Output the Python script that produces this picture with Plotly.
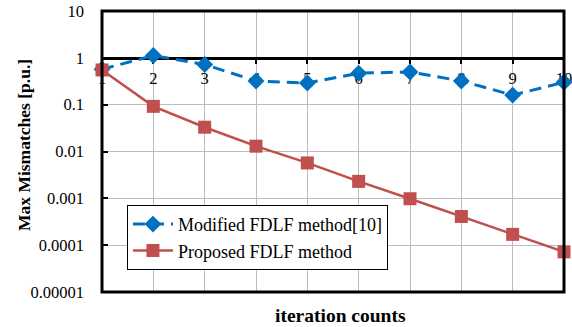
import plotly.graph_objects as go

iterations = [1, 2, 3, 4, 5, 6, 7, 8, 9, 10]
modified_fdlf = [0.57, 1.12, 0.72, 0.32, 0.29, 0.47, 0.50, 0.32, 0.16, 0.30]
proposed_fdlf = [0.55, 0.092, 0.033, 0.013, 0.0057, 0.0023, 0.00098, 0.00041, 0.00017, 0.000072]
y_tick_vals = [0.00001, 0.0001, 0.001, 0.01, 0.1, 1, 10]
y_tick_text = ["0.00001", "0.0001", "0.001", "0.01", "0.1", "1", "10"]

serif = "Liberation Serif, Times New Roman, serif"

fig = go.Figure()
fig.add_trace(go.Scatter(
    x=iterations, y=modified_fdlf, mode="lines+markers",
    name="Modified FDLF method[10]",
    line=dict(color="#0070C0", width=3, dash="12px,7px"),
    marker=dict(symbol="diamond", size=13, color="#0070C0"),
    cliponaxis=False,
))
fig.add_trace(go.Scatter(
    x=iterations, y=proposed_fdlf, mode="lines+markers",
    name="Proposed FDLF method",
    line=dict(color="#C0504D", width=2.5),
    marker=dict(symbol="square", size=13, color="#C0504D"),
    cliponaxis=False,
))

# x axis crosses the log y axis at 1 -> paper fraction 5/6
fig.update_xaxes(
    range=[1, 10], tickvals=iterations, ticktext=[str(i) for i in iterations],
    anchor="free", position=5 / 6, automargin=False,
    showline=True, linecolor="black", linewidth=3,
    ticks="outside", ticklen=4, tickwidth=2, tickcolor="black",
    showgrid=True, gridcolor="#BDBDBD", gridwidth=1,
    zeroline=False, layer="below traces", ticklabeloverflow="allow",
    tickfont=dict(family=serif, size=16.5, color="black"),
    title=None,
)
fig.update_yaxes(
    type="log", range=[-5, 1], tickvals=y_tick_vals, ticktext=y_tick_text,
    showline=False, automargin=False,
    ticks="inside", ticklen=6, tickwidth=2, tickcolor="black",
    showgrid=True, gridcolor="#BDBDBD", gridwidth=1,
    zeroline=False, ticklabelstandoff=17,
    tickfont=dict(family=serif, size=16.5, color="black"),
    title=None,
)

# plot-area frame
fig.add_shape(type="rect", xref="paper", yref="paper", x0=0, x1=1, y0=0, y1=1,
              line=dict(color="black", width=3), layer="above")

fig.add_annotation(
    text="<b>Max Mismatches [p.u.]</b>", xref="paper", yref="paper",
    x=-0.169, y=0.523, textangle=-90, showarrow=False,
    xanchor="center", yanchor="middle",
    font=dict(family=serif, size=17.5, color="black"),
)
fig.add_annotation(
    text="<b>iteration counts</b>", xref="paper", yref="paper",
    x=0.517, y=-0.04, yanchor="top", showarrow=False,
    font=dict(family=serif, size=19.5, color="black"),
)

fig.update_layout(
    width=572, height=327,
    margin=dict(l=102, r=8, t=11, b=35, autoexpand=False),
    paper_bgcolor="white", plot_bgcolor="white",
    showlegend=True,
    legend=dict(
        x=0.054, y=0.31, xanchor="left", yanchor="top",
        bgcolor="white", bordercolor="black", borderwidth=1,
        font=dict(family=serif, size=18, color="black"),
        tracegroupgap=0, itemwidth=40,
    ),
)

fig.write_html("out.html")
